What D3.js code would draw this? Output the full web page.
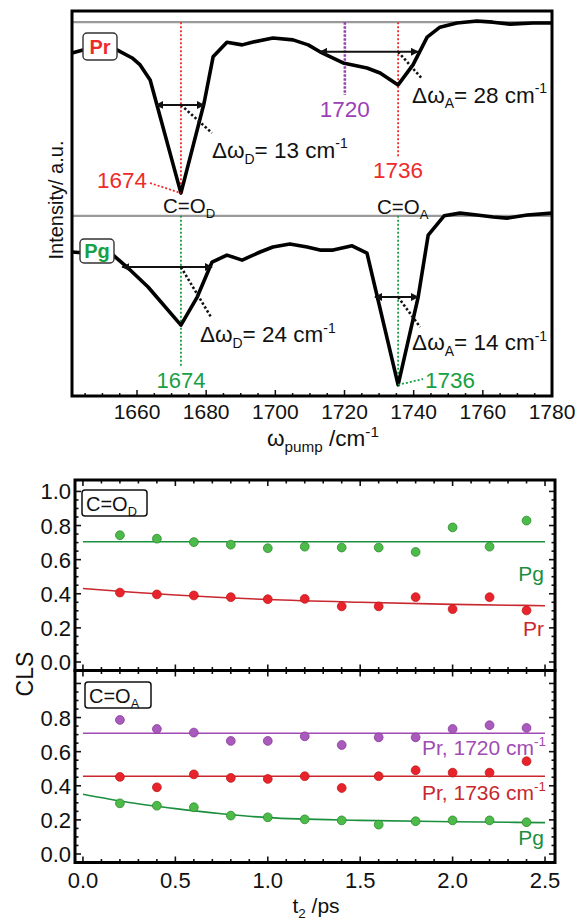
<!DOCTYPE html>
<html><head><meta charset="utf-8">
<script src="https://cdn.jsdelivr.net/npm/d3@7"></script>
<style>
body{margin:0;background:#fff}
svg{display:block}
text{font-family:"Liberation Sans",Arial,Helvetica,sans-serif;fill:#111}
</style></head>
<body><svg id="c" width="579" height="924"></svg>
<script>
// ---------- DATA: pump spectra (top panel) ----------
const prWavenumber = [1641.2,1647.3,1654.2,1658.6,1660.9,1663.8,1672.7,1679.4,1682.0,1686.0,1690.4,1693.3,1699.3,1705.1,1709.5,1712.9,1719.6,1726.5,1730.3,1735.5,1739.8,1743.9,1747.6,1752.5,1758.3,1762.9,1767.9,1774.5,1780.0];
const prIntensity  = [89.1,90.6,89.9,87.8,86.0,82.1,52.7,76.1,88.1,91.9,91.2,91.9,93.0,92.5,91.2,89.4,86.5,85.2,83.9,80.8,86.0,93.2,95.8,96.9,97.4,97.1,96.6,96.9,96.9];
const pgWavenumber = [1641.2,1653.1,1657.1,1663.2,1672.7,1677.4,1681.7,1686.0,1690.4,1695.6,1699.3,1704.2,1709.2,1712.9,1716.7,1722.2,1726.5,1735.5,1741.3,1744.2,1748.8,1753.4,1758.3,1763.0,1767.0,1772.8,1780.0];
const pgIntensity  = [37.4,36.6,33.5,28.3,18.4,25.7,34.8,36.6,35.3,37.4,38.7,39.5,38.7,37.9,37.9,39.0,37.1,2.9,25.7,41.8,46.8,47.5,47.0,46.5,46.2,47.0,47.5];
const baselineNames  = ["Pr","Pg"];
const baselineLevels = [97.1,46.8];
const wnTicks = [1660,1680,1700,1720,1740,1760,1780];

// peak markers: label, wavenumber, top level, bottom level
const markerLabels = ["1674","1720","1736","1674","1736"];
const markerPos    = [1672.7,1720.1,1735.5,1672.7,1735.5];
const markerTop    = [97.1,97.1,97.1,46.8,46.8];
const markerBottom = [52.7,78.2,62.1,7.8,2.9];

// line widths (FWHM arrows): left, right, level, label
const fwhmLeft   = [1665.5,1712.9,1655.7,1728.8];
const fwhmRight  = [1679.4,1741.3,1681.7,1741.3];
const fwhmLevel  = [75.6,89.4,33.5,25.7];
const fwhmSub    = ["D","A","D","A"];
const fwhmValue  = ["13","28","24","14"];

// ---------- DATA: CLS decays (bottom panels) ----------
const t2 = [0.2,0.4,0.6,0.8,1.0,1.2,1.4,1.6,1.8,2.0,2.2,2.4];
const clsD_Pg = [0.743,0.723,0.703,0.688,0.667,0.676,0.671,0.671,0.645,0.789,0.676,0.829];
const clsD_Pr = [0.407,0.396,0.390,0.380,0.368,0.370,0.326,0.326,0.380,0.310,0.380,0.302];
const clsA_Pr1720 = [0.786,0.733,0.712,0.663,0.663,0.690,0.639,0.684,0.684,0.733,0.755,0.739];
const clsA_Pr1736 = [0.452,0.391,0.467,0.446,0.440,0.456,0.387,0.456,0.491,0.477,0.477,0.544];
const clsA_Pg = [0.297,0.283,0.274,0.225,0.215,0.203,0.197,0.172,0.192,0.197,0.197,0.186];
const fitT = [0,0.25,0.5,0.75,1.0,1.5,2.0,2.5];
const fitD_Pg = [0.705,0.705,0.705,0.705,0.705,0.705,0.705,0.705];
const fitD_Pr = [0.431,0.410,0.393,0.378,0.366,0.350,0.338,0.330];
const fitA_Pr1720 = [0.708,0.708,0.708,0.708,0.708,0.708,0.708,0.708];
const fitA_Pr1736 = [0.456,0.456,0.456,0.456,0.456,0.456,0.456,0.456];
const fitA_Pg = [0.350,0.302,0.266,0.236,0.213,0.197,0.189,0.184];
const tTicks = [0.0,0.5,1.0,1.5,2.0,2.5];
const clsTicksD = [0.0,0.2,0.4,0.6,0.8,1.0];
const clsTicksA = [0.0,0.2,0.4,0.6,0.8];

// ---------- drawing ----------
const svg = d3.select("#c");
const RED="#ee2b2b", GREEN="#17a045", PURPLE="#9b3fb5";
const defs = svg.append("defs");
defs.append("marker").attr("id","ah").attr("viewBox","0 0 10 10").attr("refX",9).attr("refY",5)
  .attr("markerWidth",4).attr("markerHeight",4).attr("orient","auto-start-reverse")
  .append("path").attr("d","M0,0L10,5L0,10z").attr("fill","#111");

function rich(g, x, y, parts, fs, opts={}){
  const t = g.append("text").attr("x",x).attr("y",y).attr("font-size",fs)
    .attr("text-anchor",opts.anchor||"start");
  if(opts.fill) t.style("fill",opts.fill);
  if(opts.weight) t.attr("font-weight",opts.weight);
  const sr = opts.subRatio||0.64;
  let prev=0;
  parts.forEach(p=>{
    const s = typeof p==="string"? p : p[0];
    const k = typeof p==="string"? null : p[1];
    const shift = k==="sub"? 0.25*fs : k==="sup"? -0.42*fs : 0;
    const ts = t.append("tspan").attr("dy",shift-prev).text(s);
    if(k) ts.attr("font-size",fs*sr);
    prev = shift;
  });
  return t;
}

// ===== Top panel =====
const x = d3.scaleLinear().domain([1641.2,1780]).range([72,552]);
const y = d3.scaleLinear().domain([0,100]).range([396,11]);
const gTop = svg.append("g");

gTop.selectAll(".bl").data(baselineLevels).join("line")
  .attr("x1",x.range()[0]).attr("x2",x.range()[1]).attr("y1",d=>y(d)).attr("y2",d=>y(d))
  .attr("stroke","#9a9a9a").attr("stroke-width",2.2);

const mColors = [RED,PURPLE,RED,GREEN,GREEN];
markerPos.forEach((p,i)=>{
  gTop.append("line").attr("x1",x(p)).attr("x2",x(p)).attr("y1",y(markerTop[i])).attr("y2",y(markerBottom[i]))
    .attr("stroke",mColors[i]).attr("stroke-width",i===1?2.6:1.8).attr("stroke-dasharray",i===1?"2.5,1.5":"2,2");
});

const line = d3.line().x(d=>x(d[0])).y(d=>y(d[1]));
gTop.append("path").datum(d3.zip(prWavenumber,prIntensity)).attr("d",line)
  .attr("fill","none").attr("stroke","#000").attr("stroke-width",3.6).attr("stroke-linejoin","round");
gTop.append("path").datum(d3.zip(pgWavenumber,pgIntensity)).attr("d",line)
  .attr("fill","none").attr("stroke","#000").attr("stroke-width",3.6).attr("stroke-linejoin","round");

const leadDx=[31,24,30,22], leadDy=[28,27,50,30];
const txtDx=[0,-10,-11,-8], txtDy=[25,24,25,23];
const centerIdx=[0,2,3,4];
fwhmLeft.forEach((l,i)=>{
  const yy=y(fwhmLevel[i]);
  gTop.append("line").attr("x1",x(l)).attr("x2",x(fwhmRight[i])).attr("y1",yy).attr("y2",yy)
    .attr("stroke","#111").attr("stroke-width",2).attr("marker-start","url(#ah)").attr("marker-end","url(#ah)");
  const cx = x(markerPos[centerIdx[i]]);
  const ex = cx+leadDx[i], ey = yy+leadDy[i];
  gTop.append("line").attr("x1",cx).attr("y1",yy).attr("x2",ex).attr("y2",ey)
    .attr("stroke","#111").attr("stroke-width",2.6).attr("stroke-dasharray","2.4,2.2");
  rich(gTop, ex+txtDx[i], ey+txtDy[i], ["\u0394\u03c9",[fwhmSub[i],"sub"],"= "+fwhmValue[i]+" cm",["-1","sup"]],22.5,{subRatio:0.62});
});

rich(gTop,147,188,[markerLabels[0]],22.5,{anchor:"end",fill:RED});
gTop.append("line").attr("x1",150).attr("y1",183).attr("x2",x(markerPos[0])).attr("y2",y(markerBottom[0]))
  .attr("stroke",RED).attr("stroke-width",1.8).attr("stroke-dasharray","2,2");
rich(gTop,x(markerPos[1]),117,[markerLabels[1]],22.5,{anchor:"middle",fill:PURPLE});
rich(gTop,x(markerPos[2]),178,[markerLabels[2]],22.5,{anchor:"middle",fill:RED});
rich(gTop,x(markerPos[3]),388,[markerLabels[3]],22,{anchor:"middle",fill:GREEN});
rich(gTop,425,388,[markerLabels[4]],22.5,{fill:GREEN});
gTop.append("line").attr("x1",x(markerPos[4])).attr("y1",y(markerBottom[4])).attr("x2",423).attr("y2",379)
  .attr("stroke",GREEN).attr("stroke-width",1.8).attr("stroke-dasharray","2,2");

rich(gTop,163,213,["C=O",["D","sub"]],20.5);
rich(gTop,377,214,["C=O",["A","sub"]],20.5);

gTop.append("rect").attr("x",83).attr("y",33).attr("width",34).attr("height",27).attr("rx",4)
  .attr("fill","#fff").attr("stroke","#333").attr("stroke-width",1.4);
rich(gTop,100,54,[baselineNames[0]],20,{anchor:"middle",fill:RED,weight:"bold"});
gTop.append("rect").attr("x",80).attr("y",239).attr("width",34).attr("height",24).attr("rx",4)
  .attr("fill","#fff").attr("stroke","#333").attr("stroke-width",1.4);
rich(gTop,97,258,[baselineNames[1]],20,{anchor:"middle",fill:GREEN,weight:"bold"});

const minorWn = d3.range(1645,1781,5);
gTop.selectAll(".mt").data(minorWn).join("line").attr("x1",d=>x(d)).attr("x2",d=>x(d))
  .attr("y1",396).attr("y2",d=>d%20===0?390:393).attr("stroke","#111").attr("stroke-width",1.5);
gTop.selectAll(".tl").data(wnTicks).join("text").attr("x",d=>x(d)).attr("y",419)
  .attr("text-anchor","middle").attr("font-size",21).text(d=>d);
gTop.append("rect").attr("x",72).attr("y",11).attr("width",480).attr("height",385)
  .attr("fill","none").attr("stroke","#000").attr("stroke-width",3);
rich(gTop,323,446,["\u03c9",["pump","sub"]," /cm",["-1","sup"]],22.5,{anchor:"middle",subRatio:0.68});
svg.append("text").attr("transform","translate(63,200) rotate(-90)").attr("text-anchor","middle")
  .attr("font-size",20).text("Intensity/ a.u.");

// ===== Bottom panels =====
const xb = d3.scaleLinear().domain([-0.043,2.554]).range([75,555]);
const yD = d3.scaleLinear().domain([-0.05,1.067]).range([670.5,480]);
const yA = d3.scaleLinear().domain([-0.05,1.076]).range([862.5,670.5]);
const fitLine = ys => d3.line().curve(d3.curveMonotoneX).x(d=>xb(d[0])).y(d=>ys(d[1]));

const LG="#1c8f3e", LR="#c8282e", LP="#a04cb4";
const PG="#4dbb4a", PR="#e8232b", PP="#a95bbd";

function panel(ys, series, ticks){
  const g = svg.append("g");
  series.forEach(s=>{
    g.append("path").datum(d3.zip(fitT,s.fit)).attr("d",fitLine(ys))
      .attr("fill","none").attr("stroke",s.lc).attr("stroke-width",1.6);
  });
  series.forEach(s=>{
    g.selectAll(null).data(d3.zip(t2,s.pts)).join("circle")
      .attr("cx",d=>xb(d[0])).attr("cy",d=>ys(d[1])).attr("r",4.4)
      .attr("fill",s.pc).attr("stroke",s.ps).attr("stroke-width",0.8);
  });
  const [y0,y1] = ys.range();
  const xm = d3.range(0,26).map(i=>i/10);
  xm.forEach(v=>{
    const major = Math.abs(v*2-Math.round(v*2))<1e-6;
    const L = major?6:3.5;
    g.append("line").attr("x1",xb(v)).attr("x2",xb(v)).attr("y1",y0).attr("y2",y0-L).attr("stroke","#111").attr("stroke-width",1.6);
    g.append("line").attr("x1",xb(v)).attr("x2",xb(v)).attr("y1",y1).attr("y2",y1+L).attr("stroke","#111").attr("stroke-width",1.6);
  });
  const ym = d3.range(0,21).map(i=>i*0.05).filter(v=>ys(v)>y1+2);
  ym.forEach(v=>{
    const major = Math.abs(v*5-Math.round(v*5))<1e-6;
    const L = major?6:3.5;
    g.append("line").attr("y1",ys(v)).attr("y2",ys(v)).attr("x1",75).attr("x2",75+L).attr("stroke","#111").attr("stroke-width",1.6);
    g.append("line").attr("y1",ys(v)).attr("y2",ys(v)).attr("x1",555).attr("x2",555-L).attr("stroke","#111").attr("stroke-width",1.6);
  });
  g.selectAll(null).data(ticks).join("text").attr("x",71).attr("y",d=>ys(d)+8)
    .attr("text-anchor","end").attr("font-size",22).text(d=>d.toFixed(1));
  g.append("rect").attr("x",75).attr("y",y1).attr("width",480).attr("height",y0-y1)
    .attr("fill","none").attr("stroke","#000").attr("stroke-width",3);
  return g;
}

const gD = panel(yD,[
  {pts:clsD_Pg,fit:fitD_Pg,lc:LG,pc:PG,ps:"#2d8a2d"},
  {pts:clsD_Pr,fit:fitD_Pr,lc:LR,pc:PR,ps:"#c01a1a"}], clsTicksD);
const gA = panel(yA,[
  {pts:clsA_Pr1720,fit:fitA_Pr1720,lc:LP,pc:PP,ps:"#8a3a9a"},
  {pts:clsA_Pr1736,fit:fitA_Pr1736,lc:LR,pc:PR,ps:"#c01a1a"},
  {pts:clsA_Pg,fit:fitA_Pg,lc:LG,pc:PG,ps:"#2d8a2d"}], clsTicksA);

gD.append("rect").attr("x",82).attr("y",490).attr("width",65).attr("height",26).attr("rx",3)
  .attr("fill","#fff").attr("stroke","#111").attr("stroke-width",1.5);
rich(gD,86,511,["C=O",["D","sub"]],20);
gA.append("rect").attr("x",85).attr("y",682).attr("width",66).attr("height",26).attr("rx",3)
  .attr("fill","#fff").attr("stroke","#111").attr("stroke-width",1.5);
rich(gA,89,703,["C=O",["A","sub"]],20);

rich(gD,544,581,["Pg"],21,{anchor:"end",fill:LG});
rich(gD,544,636,["Pr"],21,{anchor:"end",fill:LR});
rich(gA,546,755,["Pr, 1720 cm",["-1","sup"]],21,{anchor:"end",fill:LP});
rich(gA,546,800,["Pr, 1736 cm",["-1","sup"]],21,{anchor:"end",fill:LR});
rich(gA,544,845,["Pg"],21,{anchor:"end",fill:LG});

svg.selectAll(".bt").data(tTicks).join("text").attr("x",d=>xb(d)).attr("y",888)
  .attr("text-anchor","middle").attr("font-size",22).text(d=>d.toFixed(1));
rich(svg,316,913,["t",["2","sub"]," /ps"],21,{anchor:"middle"});
svg.append("text").attr("transform","translate(33,674) rotate(-90)").attr("text-anchor","middle")
  .attr("font-size",23).text("CLS");
</script></body></html>
